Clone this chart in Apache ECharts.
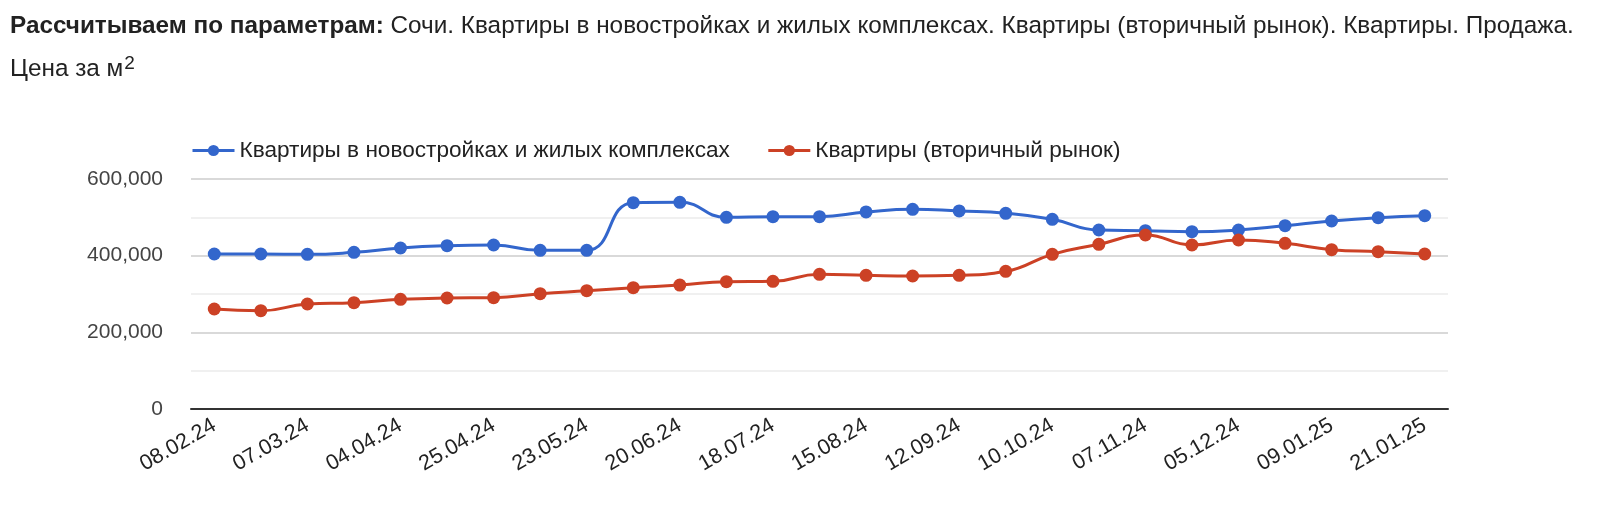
<!DOCTYPE html>
<html>
<head>
<meta charset="utf-8">
<script src="https://cdn.jsdelivr.net/npm/echarts@6/dist/echarts.min.js"></script>
<style>
html,body{margin:0;padding:0;background:#fff;}
#chart{width:1600px;height:512px;}
</style>
</head>
<body>
<div id="chart"></div>
<script>
const categories = ['08.02.24','22.02.24','07.03.24','21.03.24','04.04.24','18.04.24','25.04.24','09.05.24','23.05.24','06.06.24','20.06.24','04.07.24','18.07.24','01.08.24','15.08.24','29.08.24','12.09.24','26.09.24','10.10.24','24.10.24','07.11.24','21.11.24','05.12.24','19.12.24','09.01.25','16.01.25','21.01.25'];
const newBuildings = [404400,404400,403500,408700,420000,426000,427800,413900,413900,538300,539200,500000,501800,501800,514000,521000,516600,510500,494800,467000,465300,462600,467000,478300,490500,499200,504400];
const secondary = [260800,256400,273900,277300,286000,289500,290400,300800,308600,316500,323400,332100,333000,351300,348700,346900,348700,359100,403500,429600,453900,427800,440900,432200,415700,410400,404400];
const seriesNames = ['Квартиры в новостройках и жилых комплексах','Квартиры (вторичный рынок)'];
const yTicks = [0,200000,400000,600000];

const fmt = v => String(v).replace(/\B(?=(\d{3})+(?!\d))/g, ',');
const FONT = '"Liberation Sans", Arial, sans-serif';

const chart = echarts.init(document.getElementById('chart'), null, {renderer:'canvas'});
chart.setOption({
  animation:false,
  backgroundColor:'#fff',
  textStyle:{fontFamily:FONT},
  title:[{
    left:5, top:9,
    text:'{b|Рассчитываем по параметрам:} Сочи. Квартиры в новостройках и жилых комплексах. Квартиры (вторичный рынок). Квартиры. Продажа.',
    textStyle:{fontFamily:FONT,fontSize:24.3,fontWeight:'normal',color:'#222',
      rich:{b:{fontFamily:FONT,fontSize:24.3,fontWeight:'bold',color:'#222'}}}
  },{
    left:5, top:49,
    text:'Цена за м{sup|2}',
    textStyle:{fontFamily:FONT,fontSize:24.3,fontWeight:'normal',color:'#222',lineHeight:30,
      rich:{sup:{fontFamily:FONT,fontSize:19,color:'#222',verticalAlign:'top',lineHeight:30,padding:[0,0,17,1]}}}
  }],
  legend:{
    left:186, top:134,
    itemWidth:42, itemHeight:14, itemGap:37,
    lineStyle:{width:3},
    textStyle:{fontFamily:FONT,fontSize:22.6,color:'#222'},
    data:seriesNames
  },
  grid:{left:191,right:152,top:179,bottom:103,containLabel:false},
  xAxis:{
    type:'category',
    data:categories,
    boundaryGap:true,
    axisLine:{show:true,lineStyle:{color:'#333',width:2}},
    axisTick:{show:false},
    axisLabel:{interval:1,rotate:30,fontFamily:FONT,fontSize:21.5,color:'#222',margin:15}
  },
  yAxis:{
    type:'value',
    min:yTicks[0], max:yTicks[yTicks.length-1], interval:200000,
    axisLine:{show:false},
    axisTick:{show:false},
    axisLabel:{fontFamily:FONT,fontSize:21,color:'#444',margin:28,formatter:v=>fmt(v)},
    splitLine:{show:true,lineStyle:{color:'#cccccc',width:1.5}},
    minorTick:{show:false,splitNumber:2},
    minorSplitLine:{show:true,lineStyle:{color:'#ebebeb',width:1.5}}
  },
  series:[{
    name:seriesNames[0],
    type:'line',
    data:newBuildings,
    smooth:0.5,
    symbol:'circle',
    symbolSize:13,
    showAllSymbol:true,
    itemStyle:{color:'#3366cc'},
    lineStyle:{color:'#3366cc',width:3}
  },{
    name:seriesNames[1],
    type:'line',
    data:secondary,
    smooth:0.5,
    symbol:'circle',
    symbolSize:13,
    showAllSymbol:true,
    itemStyle:{color:'#cc4125'},
    lineStyle:{color:'#cc4125',width:3}
  }]
});
</script>
</body>
</html>
